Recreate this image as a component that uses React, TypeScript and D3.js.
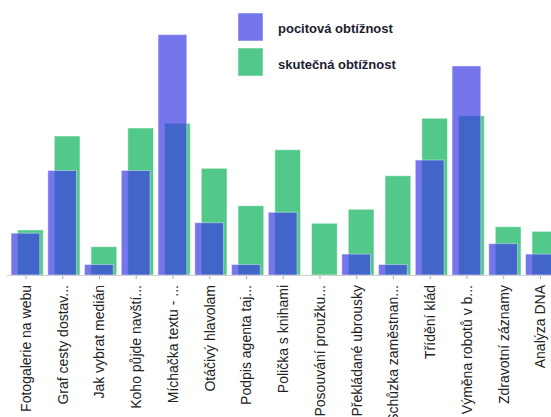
import React from "react";
import * as d3 from "d3";

const categories = [
  "Fotogalerie na webu",
  "Graf cesty dostav...",
  "Jak vybrat medián",
  "Koho půjde navští...",
  "Míchačka textu - ...",
  "Otáčivý hlavolam",
  "Podpis agenta taj...",
  "Polička s knihami",
  "Posouvání proužku...",
  "Překládané ubrousky",
  "Schůzka zaměstnan...",
  "Třídění klád",
  "Výměna robotů v b...",
  "Zdravotní záznamy",
  "Analýza DNA",
];

const pocitova = [4, 10, 1, 10, 23, 5, 1, 6, 0, 2, 1, 11, 20, 3, 2];
const skutecna = [4.31, 13.3, 2.71, 14.07, 14.52, 10.21, 6.63, 11.99, 4.95, 6.29, 9.5, 15.0, 15.24, 4.62, 4.18];

const seriesNames = ["pocitová obtížnost", "skutečná obtížnost"];

const W = 551;
const H = 417;
const baseY = 275;

export default function App() {
  const x = d3
    .scaleBand<string>()
    .domain(categories)
    .range([7.6, 7.6 + 36.75 * categories.length])
    .paddingInner(0)
    .paddingOuter(0);
  const y = d3.scaleLinear().domain([0, 25]).range([baseY, baseY - 25 * 10.45]);
  const bw = x.bandwidth();
  const blue = "#3b3be4";
  const green = "#52c98a";
  const font = "'Liberation Sans', Arial, sans-serif";

  return (
    <svg
      width={W}
      height={H}
      style={{ position: "absolute", left: 0, top: 0, background: "#fff" }}
      fontFamily={font}
    >
      {categories.map((c, i) => (
        <rect
          key={"g" + i}
          x={(x(c) as number) + bw * 0.27}
          y={y(skutecna[i])}
          width={bw * 0.7}
          height={baseY - y(skutecna[i])}
          fill={green}
          stroke="rgba(255,255,255,0.5)"
          strokeWidth={1}
        />
      ))}
      {categories.map((c, i) =>
        pocitova[i] > 0 ? (
          <rect
            key={"b" + i}
            x={(x(c) as number) + bw * 0.095}
            y={y(pocitova[i])}
            width={bw * 0.78}
            height={baseY - y(pocitova[i])}
            fill={blue}
            fillOpacity={0.7}
            stroke="rgba(255,255,255,0.4)"
            strokeWidth={1}
          />
        ) : null
      )}
      <line x1={7} x2={W} y1={baseY + 0.5} y2={baseY + 0.5} stroke="#d0d0d0" strokeWidth={1} />
      {categories.map((c, i) => {
        const cx = (x(c) as number) + bw / 2;
        return (
          <g key={"t" + i}>
            <line x1={cx} x2={cx} y1={baseY + 1} y2={baseY + 4} stroke="#aaa" strokeWidth={1} />
            <text
              transform={`translate(${cx + 5},${285}) rotate(-90)`}
              textAnchor="end"
              fontSize={14}
              fill="#222"
            >
              {c}
            </text>
          </g>
        );
      })}
      {seriesNames.map((s, i) => (
        <g key={"l" + i}>
          <rect
            x={238}
            y={13 + i * 35}
            width={25}
            height={28}
            fill={i === 0 ? blue : green}
            fillOpacity={i === 0 ? 0.7 : 1}
            stroke="rgba(255,255,255,0.5)"
          />
          <text x={278} y={33 + i * 36} fontSize={13} fontWeight="bold" fill="#1c1c30">
            {s}
          </text>
        </g>
      ))}
    </svg>
  );
}
